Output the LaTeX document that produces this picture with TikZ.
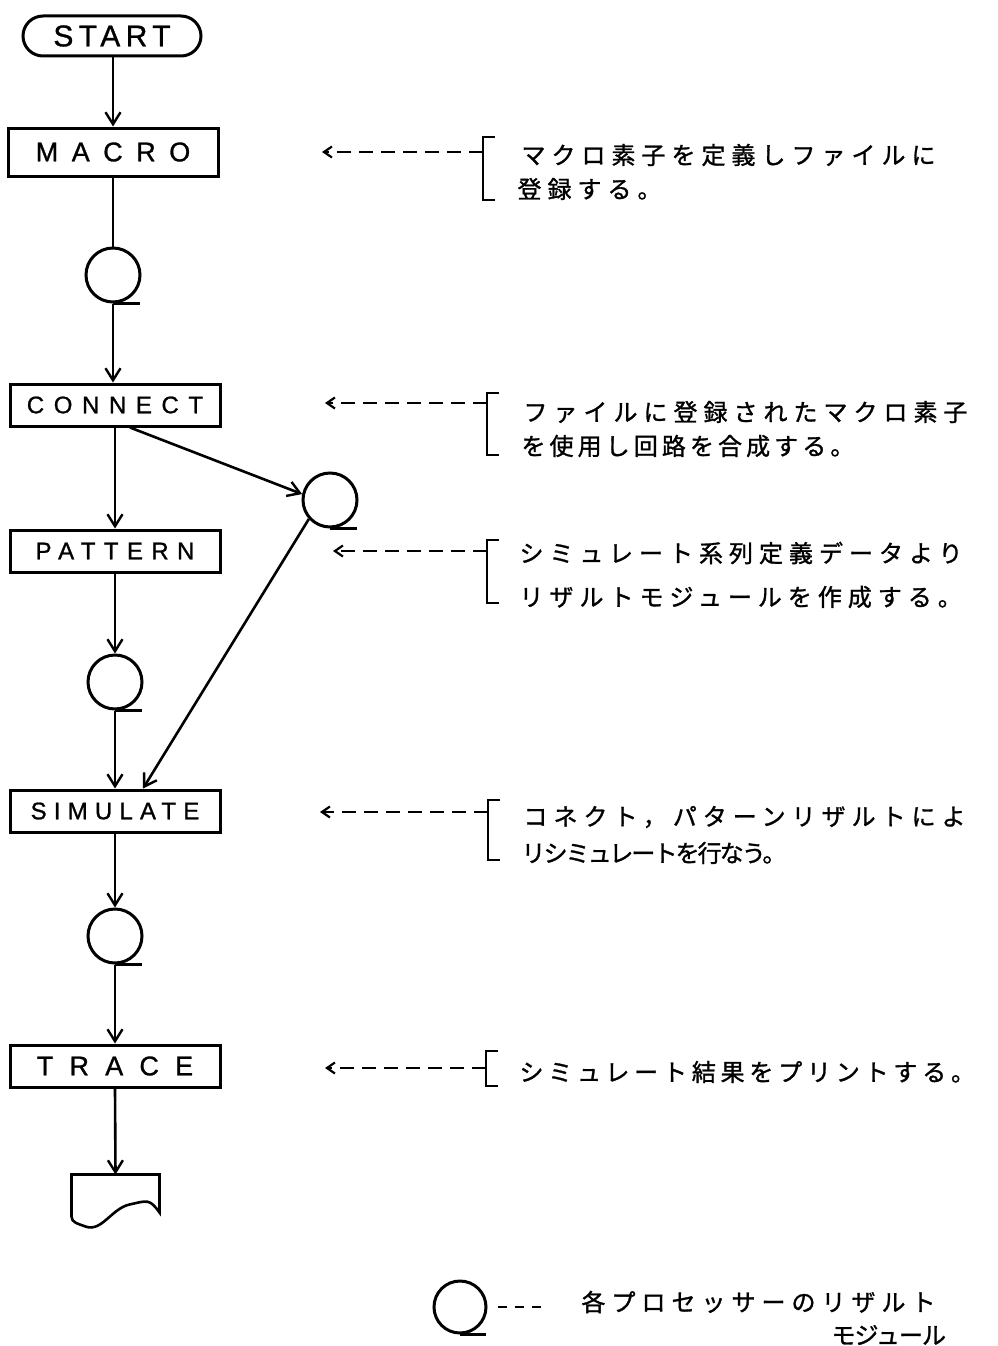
\documentclass[tikz,border=0pt]{standalone}
\usepackage{fontspec}
\setmainfont[FakeBold=1]{Liberation Sans}
\newfontfamily\jp[FakeBold=1.2]{Noto Sans CJK JP}
\usetikzlibrary{arrows.meta,calc}
\newcommand{\ls}[1]{\addfontfeature{LetterSpace=#1}}
\begin{document}
\begin{tikzpicture}[x=1pt,y=-1pt, line width=3pt,
 box/.style={draw, minimum width=210pt, minimum height=42pt, inner sep=0pt, font=\fontsize{24}{24}\selectfont},
 tape/.style={circle, draw, minimum size=54pt, inner sep=0pt},
 arr/.style={line width=2.6pt, -{Straight Barb[length=12pt,width=15pt,line width=2.4pt]}},
 ann/.style={anchor=west, inner sep=0pt, font=\jp\fontsize{24}{24}\selectfont},
 darr/.style={line width=2.2pt, dash pattern=on 14pt off 8pt, -{Straight Barb[length=8pt,width=11pt,line width=2.2pt]}},
 brk/.style={line width=2.6pt}
]
\useasboundingbox (0,0) rectangle (998,1346);

% main column
\node[box, rounded corners=20pt, minimum width=178pt, minimum height=40pt, font=\fontsize{30}{30}\selectfont] (start) at (112,36) {\ls{18}START};
\node[box, minimum height=48pt, font=\fontsize{27}{27}\selectfont] (macro) at (113,152) {\ls{50}MACRO};
\node[tape] (t1) at (113,275) {};
\node[box] (connect) at (115,405) {\ls{40}CONNECT};
\node[tape] (t2) at (330,500) {};
\node[box] (pattern) at (115,551) {\ls{35}PATTERN};
\node[tape] (t3) at (115,682) {};
\node[box] (simulate) at (115,811) {\ls{30}SIMULATE};
\node[tape] (t4) at (115,936) {};
\node[box, font=\fontsize{27}{27}\selectfont] (trace) at (115,1066) {\ls{60}TRACE};
\node[minimum width=85pt, minimum height=46pt, inner sep=0pt] (doc) at (115.5,1199) {};
\draw[line width=2.6pt] (doc.north west) -- (doc.north east) -- ++(0,38)
  .. controls ++(-10,-14) and ++(18,-4) .. ++(-30,-8)
  .. controls ++(-18,4) and ++(16,6) .. ($(doc.north west)+(14,52)$)
  .. controls ++(-8,-3) and ++(0,6) .. ($(doc.north west)+(0,42)$) -- cycle;

% tape tails
\foreach \t in {t1,t2,t3,t4}{\draw (\t.south) -- ++(27,0);}

% connectors
\draw[arr] (start.south -| macro.south) -- (macro.south |- macro.north);
\draw[line width=2.6pt] (macro.south -| t1.north) -- (t1.north);
\draw[arr] (t1.south) -- (t1.south |- connect.north);
\draw[arr] (connect.south) -- (pattern.north);
\draw[arr] ([xshift=15pt]connect.south) -- (t2.168);
\draw[arr] (pattern.south) -- (t3.north);
\draw[arr] (t3.south) -- (simulate.north);
\draw[arr] (t2.222) -- ([xshift=28pt]simulate.north);
\draw[arr] (simulate.south) -- (t4.north);
\draw[arr] (t4.south) -- (trace.north);
\draw[arr] (trace.south) -- (doc.north);

% annotations
\coordinate (b1) at (483,152); \coordinate (a1) at (322,152);
\draw[brk] (495,137) -- (483,137) -- (483,200) -- (495,200);
\draw[darr] (b1) -- (a1);
\node[ann] (m1) at (520,155) {\ls{25}マクロ素子を定義しファイルに};
\node[ann] (m2) at (516,189) {\ls{25}登録する。};

\coordinate (b2) at (487,403); \coordinate (a2) at (325,403);
\draw[brk] (499,393) -- (487,393) -- (487,455) -- (499,455);
\draw[darr] (b2) -- (a2);
\node[ann] (c1) at (522,412) {\ls{25}ファイルに登録されたマクロ素子};
\node[ann] (c2) at (520,446) {\ls{17}を使用し回路を合成する。};

\coordinate (b3) at (487,551); \coordinate (a3) at (333,551);
\draw[brk] (499,540) -- (487,540) -- (487,603) -- (499,603);
\draw[darr] (b3) -- (a3);
\node[ann] (p1) at (518,553) {\ls{25}シミュレート系列定義データより};
\node[ann] (p2) at (518,597) {\ls{25}リザルトモジュールを作成する。};

\coordinate (b4) at (488,812); \coordinate (a4) at (320,812);
\draw[brk] (500,800) -- (488,800) -- (488,860) -- (500,860);
\draw[darr] (b4) -- (a4);
\node[ann] (s1) at (522,817) {\ls{25}コネクト，パターンリザルトによ};
\node[ann] (s2) at (520,853) {\ls{-8}リシミュレートを行なう。};

\coordinate (b5) at (486,1068); \coordinate (a5) at (325,1068);
\draw[brk] (498,1051) -- (486,1051) -- (486,1086) -- (498,1086);
\draw[darr] (b5) -- (a5);
\node[ann] (r1) at (518,1072) {\ls{20}シミュレート結果をプリントする。};

% legend
\node[tape, minimum size=52pt] (leg) at (460,1307) {};
\draw (leg.south) -- ++(26,0);
\draw[line width=2.4pt, dash pattern=on 9pt off 8pt] ([xshift=10pt]leg.east) -- ([xshift=53pt]leg.east);
\node[ann] (l1) at (580,1302) {\ls{25}各プロセッサーのリザルト};
\node[ann] (l2) at (830,1335) {\ls{-4}モジュール};
\end{tikzpicture}
\end{document}
